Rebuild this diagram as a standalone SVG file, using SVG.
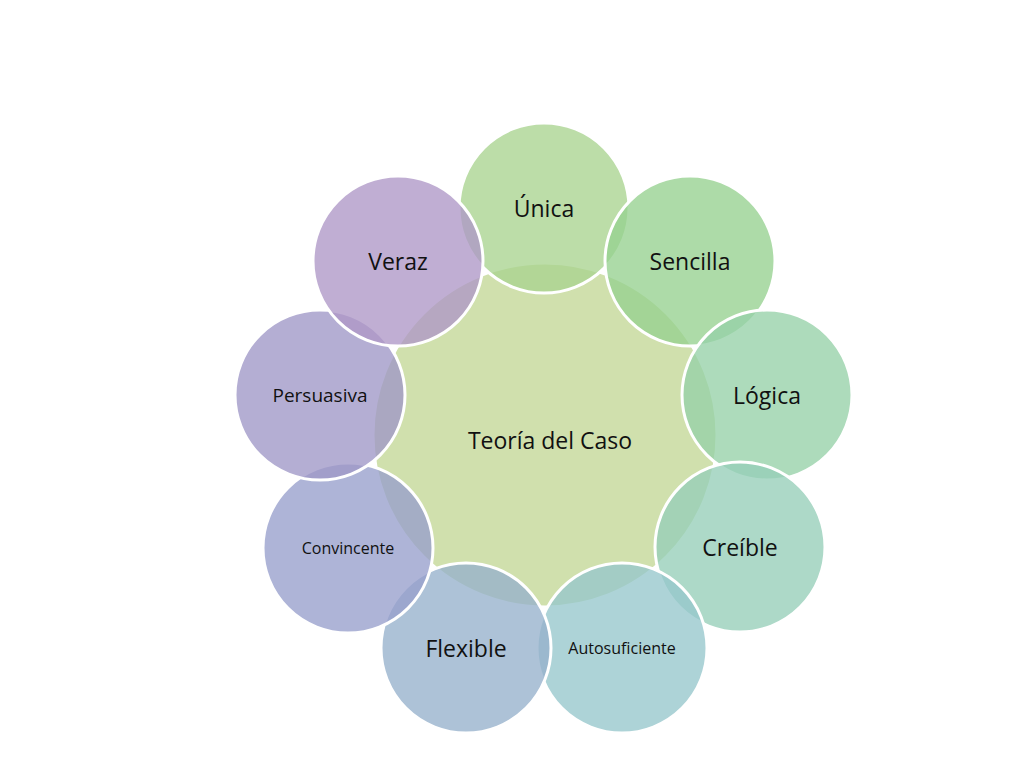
<svg xmlns="http://www.w3.org/2000/svg" width="1024" height="768" viewBox="0 0 1024 768">
<style>
circle{stroke:#fff;stroke-width:3;fill-opacity:0.78}
text{font-family:"Open Sans","Liberation Sans",sans-serif;fill:#111;text-anchor:middle;dominant-baseline:central}
.b{font-size:23px}.s{font-size:16px}
</style>
<rect width="1024" height="768" fill="#fff"/>
<g id="center"><circle cx="545" cy="435" r="172" fill="#c3d796"/><text class="b" x="550" y="440">Teoría del Caso</text></g>
<g id="unica"><circle cx="544" cy="208" r="85" fill="#a9d38f"/><text class="b" x="544" y="208">Única</text></g>
<g id="sencilla"><circle cx="690" cy="261" r="85" fill="#96d190"/><text class="b" x="690" y="261">Sencilla</text></g>
<g id="logica"><circle cx="767" cy="395" r="85" fill="#96d1a8"/><text class="b" x="767" y="395">Lógica</text></g>
<g id="creible"><circle cx="740" cy="547" r="85" fill="#96ceb9"/><text class="b" x="740" y="547">Creíble</text></g>
<g id="autosuficiente"><circle cx="622" cy="648" r="85" fill="#96c7cc"/><text class="s" x="622" y="648">Autosuficiente</text></g>
<g id="flexible"><circle cx="466" cy="648" r="85" fill="#96b1cc"/><text class="b" x="466" y="648">Flexible</text></g>
<g id="convincente"><circle cx="348" cy="548" r="85" fill="#979fcc"/><text class="s" x="348" y="548">Convincente</text></g>
<g id="persuasiva"><circle cx="320" cy="395" r="85" fill="#9f97c7"/><text x="320" y="395" style="font-size:19px">Persuasiva</text></g>
<g id="veraz"><circle cx="398" cy="261" r="85" fill="#ae97c7"/><text class="b" x="398" y="261">Veraz</text></g>
<g id="connectors"/>
</svg>
